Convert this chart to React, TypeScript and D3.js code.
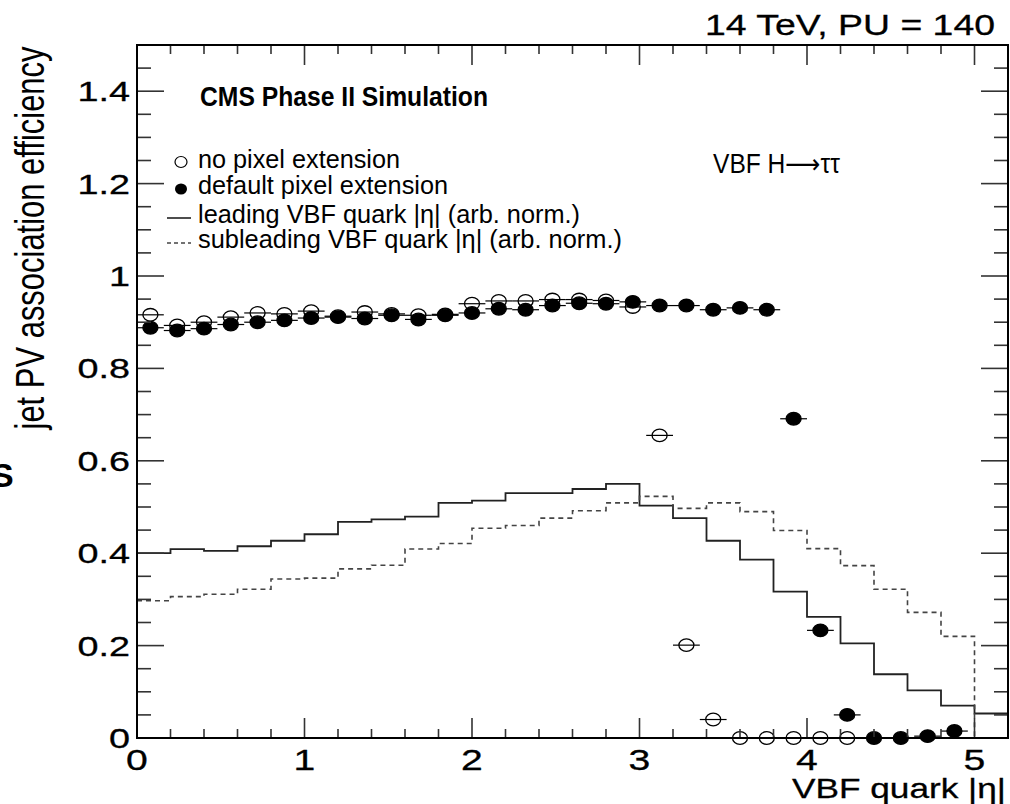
import React from "react";
import * as d3 from "d3";

// ---------- data ----------
const etaCenters = [0.08, 0.24, 0.40, 0.56, 0.72, 0.88, 1.04, 1.20, 1.36, 1.52, 1.68, 1.84, 2.00, 2.16, 2.32, 2.48, 2.64, 2.80, 2.96, 3.12, 3.28, 3.44, 3.60, 3.76, 3.92, 4.08, 4.24, 4.40, 4.56, 4.72, 4.88];
const etaHalfWidth = 0.08;

const defaultPixelEff = [0.888, 0.882, 0.886, 0.895, 0.900, 0.904, 0.909, 0.911, 0.908, 0.915, 0.906, 0.915, 0.920, 0.929, 0.927, 0.936, 0.941, 0.940, 0.944, 0.936, 0.936, 0.927, 0.931, 0.927, 0.691, 0.233, 0.050, 0.0, 0.0, 0.004, 0.015];
const noPixelEff = [0.916, 0.893, 0.900, 0.911, 0.920, 0.918, 0.924, 0.913, 0.922, 0.918, 0.915, 0.917, 0.940, 0.946, 0.946, 0.949, 0.949, 0.947, 0.933, 0.655, 0.201, 0.040, 0.0, 0.0, 0.0, 0.0, 0.0];

const histEdges = [0, 0.2, 0.4, 0.6, 0.8, 1.0, 1.2, 1.4, 1.6, 1.8, 2.0, 2.2, 2.4, 2.6, 2.8, 3.0, 3.2, 3.4, 3.6, 3.8, 4.0, 4.2, 4.4, 4.6, 4.8, 5.0, 5.2];
const leadingHist = [0.400, 0.409, 0.405, 0.415, 0.427, 0.441, 0.468, 0.473, 0.479, 0.509, 0.514, 0.530, 0.530, 0.539, 0.550, 0.503, 0.476, 0.427, 0.386, 0.317, 0.262, 0.205, 0.138, 0.103, 0.070, 0.053];
const subleadingHist = [0.297, 0.306, 0.311, 0.322, 0.344, 0.346, 0.366, 0.374, 0.409, 0.421, 0.454, 0.460, 0.476, 0.492, 0.509, 0.523, 0.497, 0.509, 0.490, 0.449, 0.410, 0.373, 0.322, 0.272, 0.220, 0.0];

const xTickLabels = ["0", "1", "2", "3", "4", "5"];
const xTickValues = [0, 1, 2, 3, 4, 5];
const yTickLabels = ["0", "0.2", "0.4", "0.6", "0.8", "1", "1.2", "1.4"];
const yTickValues = [0, 0.2, 0.4, 0.6, 0.8, 1.0, 1.2, 1.4];

const legendLabels = [
  "no pixel extension",
  "default pixel extension",
  "leading VBF quark |\u03b7| (arb. norm.)",
  "subleading VBF quark |\u03b7| (arb. norm.)",
];

// ---------- layout ----------
const W = 1010, H = 804;
const X0 = 137, X1 = 1008, Y0 = 738, Y1 = 45;
const FONT = "'Liberation Sans', Arial, Helvetica, sans-serif";

export default function App() {
  const x = d3.scaleLinear().domain([0, 5.2]).range([X0, X1]);
  const y = d3.scaleLinear().domain([0, 1.5]).range([Y0, Y1]);

  const step = d3.line<[number, number]>().x(d => x(d[0])).y(d => y(d[1])).curve(d3.curveStepAfter);
  const histPts = (vals: number[]): [number, number][] => {
    const pts: [number, number][] = vals.map((v, i) => [histEdges[i], v]);
    pts.push([histEdges[histEdges.length - 1], vals[vals.length - 1]]);
    return pts;
  };

  const xMinor = d3.range(0, 5.2001, 0.2).filter(v => v > 0.001 && v < 5.19);
  const yMinor = d3.range(0, 1.5001, 0.05).filter(v => v > 0.001 && v < 1.49);
  const isMajorX = (v: number) => Math.abs(v - Math.round(v)) < 1e-6;
  const isMajorY = (v: number) => Math.abs(v * 5 - Math.round(v * 5)) < 1e-6;

  const tickColor = "#333";

  const points = (vals: number[], filled: boolean) =>
    vals.map((v, i) => {
      const cx = x(etaCenters[i]);
      const cy = y(v);
      return (
        <g key={(filled ? "f" : "o") + i}>
          <line x1={x(etaCenters[i] - etaHalfWidth)} x2={x(etaCenters[i] + etaHalfWidth)} y1={cy} y2={cy} stroke="#000" strokeWidth={1.2} />
          <ellipse cx={cx} cy={cy} rx={7.5} ry={6.3} fill={filled ? "#000" : "#fff"} fillOpacity={filled ? 1 : 0} stroke="#000" strokeWidth={1.3} />
        </g>
      );
    });

  return (
    <svg width={W} height={H} style={{ position: "absolute", left: 0, top: 0, background: "#fff" }} fontFamily={FONT}>
      <rect x={0} y={0} width={W} height={H} fill="#fff" />

      {/* histograms */}
      <path d={step(histPts(leadingHist)) || ""} fill="none" stroke="#222" strokeWidth={1.8} />
      <path d={step(histPts(subleadingHist)) || ""} fill="none" stroke="#444" strokeWidth={1.6} strokeDasharray="5,4" />

      {/* points */}
      {points(noPixelEff, false)}
      {points(defaultPixelEff, true)}

      {/* ticks */}
      {xMinor.map((v, i) => {
        const L = isMajorX(v) ? 20 : 9;
        return (
          <g key={"xt" + i} stroke={tickColor} strokeWidth={1.6}>
            <line x1={x(v)} x2={x(v)} y1={Y0} y2={Y0 - L} />
            <line x1={x(v)} x2={x(v)} y1={Y1} y2={Y1 + L} />
          </g>
        );
      })}
      {yMinor.map((v, i) => {
        const L = isMajorY(v) ? 27 : 14;
        return (
          <g key={"yt" + i} stroke={tickColor} strokeWidth={1.6}>
            <line x1={X0} x2={X0 + L} y1={y(v)} y2={y(v)} />
            <line x1={X1} x2={X1 - L} y1={y(v)} y2={y(v)} />
          </g>
        );
      })}

      {/* frame */}
      <rect x={X0} y={Y1} width={X1 - X0} height={Y0 - Y1} fill="none" stroke="#000" strokeWidth={2} />

      {/* tick labels */}
      {xTickValues.map((v, i) => (
        <g key={"xl" + i} transform={`translate(${x(v)},770) scale(1.35,1)`}>
          <text textAnchor="middle" fontSize={29} fill="#000" stroke="#000" strokeWidth={0.3}>{xTickLabels[i]}</text>
        </g>
      ))}
      {yTickValues.map((v, i) => (
        <g key={"yl" + i} transform={`translate(130,${y(v) + 10}) scale(1.35,1)`}>
          <text textAnchor="end" fontSize={28} fill="#000" stroke="#000" strokeWidth={0.3}>{yTickLabels[i]}</text>
        </g>
      ))}

      {/* axis titles */}
      <g transform="translate(44,238) scale(1.3,1) rotate(-90)">
        <text textAnchor="middle" fontSize={31} textLength={383} lengthAdjust="spacingAndGlyphs" fill="#000">jet PV association efficiency</text>
      </g>
      <text x={792} y={798} fontSize={28} textLength={214} lengthAdjust="spacingAndGlyphs" fill="#000" stroke="#000" strokeWidth={0.3}>VBF quark |&#951;|</text>
      <text x={-9} y={487} fontSize={34} fontWeight="bold" fill="#000">S</text>

      {/* header texts */}
      <text x={705} y={35} fontSize={30} textLength={290} lengthAdjust="spacingAndGlyphs" fill="#000" stroke="#000" strokeWidth={0.3}>14 TeV, PU = 140</text>
      <text x={200} y={106} fontSize={27} fontWeight="bold" textLength={288} lengthAdjust="spacingAndGlyphs" fill="#000">CMS Phase II Simulation</text>
      <text x={713} y={173} fontSize={27} textLength={127} lengthAdjust="spacingAndGlyphs" fill="#000">VBF H<tspan fontFamily="'DejaVu Sans', sans-serif">&#10230;</tspan>&#964;&#964;</text>

      {/* legend */}
      <ellipse cx={181} cy={162} rx={6} ry={5.5} fill="none" stroke="#000" strokeWidth={1.2} />
      <ellipse cx={181} cy={189} rx={6} ry={5.5} fill="#000" />
      <line x1={167} x2={191} y1={218} y2={218} stroke="#222" strokeWidth={1.6} />
      <line x1={167} x2={191} y1={243} y2={243} stroke="#444" strokeWidth={1.5} strokeDasharray="4,3" />
      <text x={198} y={168} fontSize={25} textLength={202} lengthAdjust="spacingAndGlyphs" fill="#000">{legendLabels[0]}</text>
      <text x={198} y={194} fontSize={25} textLength={250} lengthAdjust="spacingAndGlyphs" fill="#000">{legendLabels[1]}</text>
      <text x={198} y={223} fontSize={25} textLength={382} lengthAdjust="spacingAndGlyphs" fill="#000">{legendLabels[2]}</text>
      <text x={198} y={248} fontSize={25} textLength={424} lengthAdjust="spacingAndGlyphs" fill="#000">{legendLabels[3]}</text>
    </svg>
  );
}
